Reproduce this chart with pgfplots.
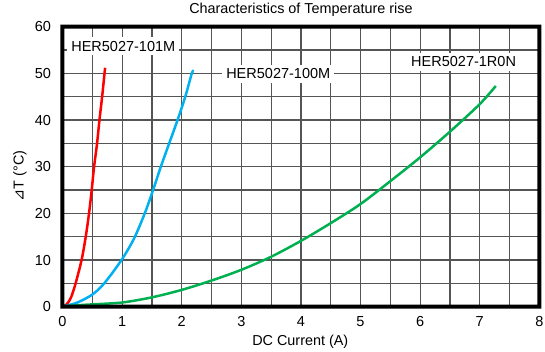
\documentclass[border=0pt]{standalone}
\usepackage{pgfplots}
\pgfplotsset{compat=1.18}
\usepackage{fontspec}
\setmainfont{Liberation Sans}
\newfontfamily\dejavu{DejaVu Sans}
\definecolor{cred}{RGB}{255,0,0}
\definecolor{cblue}{RGB}{0,176,240}
\definecolor{cgreen}{RGB}{0,176,80}
\definecolor{cgrid}{RGB}{85,85,85}
\begin{document}
\begin{tikzpicture}
\useasboundingbox (-62.5pt,-45.3pt) rectangle (482.5pt,306.7pt);
\begin{axis}[
  at={(0,0)}, anchor=south west,
  scale only axis, width=476.8pt, height=280pt,
  xmin=0, xmax=8, ymin=0, ymax=60,
  xtick={0,...,8}, ytick={0,10,...,60},
  minor xtick={0.5,1.5,...,7.5}, minor ytick={5,15,...,55},
  grid=both,
  grid style={draw=cgrid, line width=1.2pt},
  major tick length=0pt, minor tick length=0pt,
  axis line style={draw=none},
  /pgf/number format/assume math mode=true,
  ticklabel style={font=\fontsize{14.5}{16}\selectfont},
  xticklabel style={yshift=-6pt},
  yticklabel style={xshift=-8pt},
  clip=false,
]
\addplot[cred, line width=2.5pt, smooth] coordinates {
(0,0) (0.05,0.3) (0.1,1.0) (0.15,2.2) (0.22,5) (0.32,10) (0.39,15) (0.445,20) (0.49,25) (0.53,30) (0.58,35) (0.62,40) (0.665,45) (0.705,50) (0.715,51.2)};
\addplot[cblue, line width=2.5pt, smooth] coordinates {
(0,0) (0.25,0.9) (0.5,2.6) (0.7,5) (0.99,10) (1.2,14.6) (1.38,20) (1.52,25) (1.65,30) (1.79,35) (1.93,40) (2.06,45) (2.17,50) (2.195,50.4)};
\addplot[cgreen, line width=2.5pt, smooth] coordinates {
(0,0) (0.25,0.3) (0.5,0.5) (1,0.9) (1.5,2.0) (2,3.6) (2.5,5.6) (3,7.9) (3.5,10.7) (4,14.1) (4.5,17.9) (5,22) (5.5,26.9) (6,32) (6.5,37.5) (7,43.4) (7.27,47.3)};
\node[fill=white, inner sep=4pt, font=\fontsize{14.5}{16}\selectfont] at (axis cs:1.02,55.8) {HER5027-101M};
\node[fill=white, inner sep=4pt, font=\fontsize{14.5}{16}\selectfont] at (axis cs:3.62,49.9) {HER5027-100M};
\node[fill=white, inner sep=4pt, font=\fontsize{14.5}{16}\selectfont] at (axis cs:6.73,52.5) {HER5027-1R0N};
\fill[black, even odd rule]
  ([shift={(-2pt,-2pt)}]rel axis cs:0,0) rectangle ([shift={(2pt,2pt)}]rel axis cs:1,1)
  ([shift={(2pt,2pt)}]rel axis cs:0,0) rectangle ([shift={(-2pt,-2pt)}]rel axis cs:1,1);
\end{axis}
\node[font=\fontsize{14.4}{16}\selectfont] at (238.4pt,296.5pt) {Characteristics of Temperature rise};
\node[font=\fontsize{14.4}{16}\selectfont] at (237.8pt,-34.8pt) {DC Current (A)};
\node[font=\fontsize{14.4}{16}\selectfont, rotate=90] at (-42.5pt,130.7pt) {{\dejavu\itshape ⊿}T (°C)};
\end{tikzpicture}
\end{document}
